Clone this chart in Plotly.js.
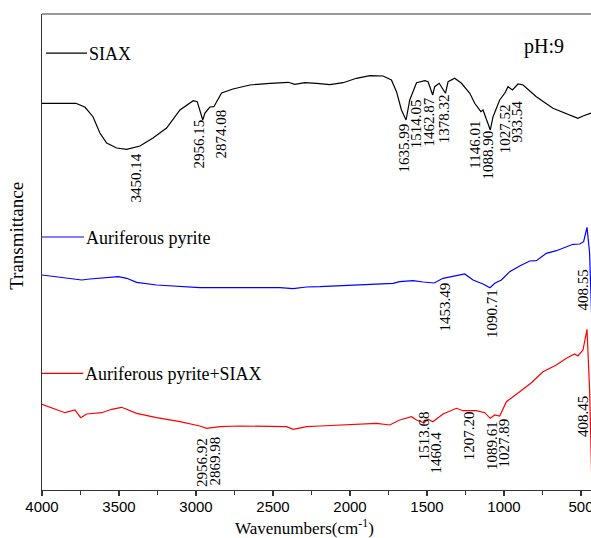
<!DOCTYPE html>
<html>
<head>
<meta charset="utf-8">
<script src="https://cdn.plot.ly/plotly-3.0.1.min.js"></script>
<style>html,body{margin:0;padding:0;background:#fff;}#chart{width:591px;height:538px;}</style>
</head>
<body>
<div id="chart"></div>
<script>
// ---- data (arbitrary transmittance units, curves offset as in the figure) ----
const siaxWn = [4000,3850,3780,3753,3720,3669,3624,3580,3515,3450,3364,3279,3191,3104,3018,2992,2956,2942,2910,2884,2866,2834,2760,2650,2520,2401,2358,2293,2217,2131,2045,1958,1871,1785,1731,1698,1666,1636,1612,1568,1514,1493,1463,1450,1421,1380,1363,1320,1276,1222,1190,1150,1136,1089,1071,1028,995,974,945,909,876,790,682,595,540,520,487,444,435];
const siaxT  = [386.7,386.7,386.7,385,382.7,373.3,357,347,342,340.7,344,352,362,380,389.3,388.3,370,377,383,383.3,388.3,397,401,405,406.7,407.7,405.7,407.3,406.7,405.3,407.3,411.7,414.3,414,410,398.3,380,370,390,407.3,409.3,408.3,395,403.3,406.7,396.7,408.3,411.7,406.7,396.7,386.7,378.3,380,360,373.3,390,396.7,403.3,400,406,405,393.3,381.7,376.7,373,371.7,374,376.7,377];

const pyriteWn = [4000,3883,3797,3742,3689,3580,3505,3450,3385,3256,3104,2975,2715,2455,2369,2282,2196,2045,1720,1677,1590,1525,1453,1396,1331,1255,1201,1136,1091,1060,1017,963,898,833,790,725,660,617,552,508,483,461,444,430];
const pyriteT  = [215,212.7,211.7,210,211,212.3,213.3,211.7,207.7,205,203.3,202.3,202.3,202.3,201.3,203,203.3,204.3,206.7,208.3,209.3,208,207,211.7,214,216,210,206,202.3,206.7,210,218.3,224,229,229.3,236.7,239.3,241.7,245.7,246,248.3,262.7,237,170];

const mixWn = [4000,3927,3851,3786,3749,3710,3667,3613,3548,3483,3385,3256,3104,2975,2931,2900,2845,2715,2412,2369,2282,2196,1828,1742,1677,1601,1568,1520,1493,1462,1396,1309,1266,1179,1125,1090,1060,1028,984,898,822,747,660,595,541,520,487,461,444,430];
const mixT  = [85.7,81.7,77.3,80,72.3,76,76.7,77.3,80.7,82.7,76.7,72.3,68.3,64,61.7,62.5,63.3,64,63.3,60.7,63.3,64,66.7,65,70,73.3,70,67.3,70.7,68.3,76,81.7,79.3,79.3,77.3,71.7,75,74,88.3,98.3,107.3,118.3,125,131.7,136,134,140,160.7,100,10];

const seriesNames = ["SIAX", "Auriferous pyrite", "Auriferous pyrite+SIAX"];
const xTickVals = [4000,3500,3000,2500,2000,1500,1000,500];

// peak labels: text and where each label sits (wavenumber, top of label)
const peakText = ["3450.14","2956.15","2874.08","1635.99","1514.05","1462.87","1378.32","1146.01","1088.90","1027.52","933.54",
                  "1453.49","1090.71","408.55",
                  "2956.92","2869.98","1513.68","1460.4","1207.20","1089.61","1027.89","408.45"];
const peakX    = [3396,2981,2838,1655,1573,1493,1391,1190,1110,995,913,
                  1389,1081,487,
                  2964,2877,1521,1439,1229,1081,1000,490];
const peakTop  = [337,372,382,367,392,393,397,370,360,387,391,
                  208,202,222,
                  53,55,80,60,80,70,73,95];

const colors = ["#000000", "#0000ff", "#ff0000"];
const serif = "Liberation Serif, Times New Roman, serif";

const traces = [
  {x: siaxWn, y: siaxT, name: seriesNames[0]},
  {x: pyriteWn, y: pyriteT, name: seriesNames[1]},
  {x: mixWn, y: mixT, name: seriesNames[2]}
].map((t, i) => Object.assign(t, {type: "scatter", mode: "lines", line: {color: colors[i], width: 1.2}, hoverinfo: "skip"}));

const annotations = peakText.map((t, i) => ({
  x: peakX[i], y: peakTop[i], xref: "x", yref: "y", text: t, showarrow: false,
  textangle: -90, xanchor: "center", yanchor: "top",
  font: {family: serif, size: 15, color: "#000"}, borderpad: 0
}));

// in-plot legend labels
const legendY = [0.918, 0.5315, 0.245];
const legendLineX = [[0.0073, 0.082], [0, 0.0765], [0, 0.0752]];
const shapes = [];
seriesNames.forEach((n, i) => {
  shapes.push({type: "line", xref: "paper", yref: "paper", x0: legendLineX[i][0], x1: legendLineX[i][1], y0: legendY[i], y1: legendY[i], line: {color: colors[i], width: 1.2}});
  annotations.push({xref: "paper", yref: "paper", x: legendLineX[i][1], y: legendY[i] - 0.002, text: n, showarrow: false, xanchor: "left", yanchor: "middle", font: {family: serif, size: 18, color: "#000"}});
});
// top frame line
shapes.push({type: "line", xref: "paper", yref: "paper", x0: 0, x1: 1, y0: 1, y1: 1, line: {color: "#777", width: 1.3}});

annotations.push({xref: "paper", yref: "paper", x: 0.914, y: 0.931, text: "pH:9", showarrow: false, xanchor: "center", yanchor: "middle", font: {family: serif, size: 20, color: "#000"}});
annotations.push({xref: "paper", yref: "paper", x: 0.479, y: -0.078, text: "Wavenumbers(cm<sup>-1</sup>)", showarrow: false, xanchor: "center", yanchor: "middle", font: {family: serif, size: 17, color: "#000"}});
annotations.push({xref: "paper", yref: "paper", x: -0.0455, y: 0.534, text: "Transmittance", showarrow: false, textangle: -90, xanchor: "center", yanchor: "middle", font: {family: serif, size: 19, color: "#000"}});

const layout = {
  width: 591, height: 538,
  margin: {l: 42, r: 0, t: 14, b: 48, pad: 0},
  paper_bgcolor: "#fff", plot_bgcolor: "#fff",
  showlegend: false,
  xaxis: {
    range: [4000, 435], showgrid: false, zeroline: false,
    showline: true, linecolor: "#333", linewidth: 1.3,
    ticks: "outside", ticklen: 5, tickwidth: 1.2, tickcolor: "#333",
    tickvals: xTickVals, ticktext: xTickVals.map(String),
    ticklabeloverflow: "allow", ticklabelstandoff: -2,
    minor: {dtick: 250, ticks: "outside", ticklen: 4, tickwidth: 1.2, tickcolor: "#333"},
    tickfont: {family: "Liberation Sans, Arial, sans-serif", size: 15, color: "#000"}
  },
  yaxis: {
    range: [0, 476], showgrid: false, zeroline: false,
    showline: true, linecolor: "#333", linewidth: 1.3,
    ticks: "", showticklabels: false
  },
  annotations: annotations,
  shapes: shapes
};

Plotly.newPlot("chart", traces, layout, {staticPlot: true, displayModeBar: false});
</script>
</body>
</html>
